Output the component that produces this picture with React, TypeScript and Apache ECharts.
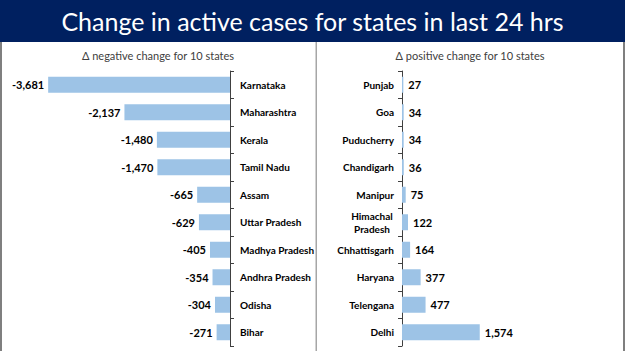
import React, { useEffect, useRef } from "react";
import * as echarts from "echarts";

const negStates = ["Karnataka", "Maharashtra", "Kerala", "Tamil Nadu", "Assam", "Uttar Pradesh", "Madhya Pradesh", "Andhra Pradesh", "Odisha", "Bihar"];
const negValues = [-3681, -2137, -1480, -1470, -665, -629, -405, -354, -304, -271];
const posStates = ["Punjab", "Goa", "Puducherry", "Chandigarh", "Manipur", "Himachal\nPradesh", "Chhattisgarh", "Haryana", "Telengana", "Delhi"];
const posValues = [27, 34, 34, 36, 75, 122, 164, 377, 477, 1574];

const TITLE = "Change in active cases for states in last 24 hrs";
const SUB_NEG = "Δ negative change for 10 states";
const SUB_POS = "Δ positive change for 10 states";

const FONT = "Lato";
const BAR = "#9DC3E6";
const fmt = (v: number) => v.toLocaleString("en-US");

export default function App() {
  const ref = useRef<HTMLDivElement>(null);
  useEffect(() => {
    document.body.style.margin = "0";
    const chart = echarts.init(ref.current!, null, { renderer: "svg" });
    const axisLine = { show: true, lineStyle: { color: "#404040", width: 1 } };
    chart.setOption({
      animation: false,
      backgroundColor: "#ffffff",
      graphic: [
        { type: "rect", shape: { x: 0, y: 0, width: 625, height: 42 }, style: { fill: "#002060" } },
        { type: "text", x: 312.5, y: 21, style: { text: TITLE, fill: "#ffffff", font: `25px ${FONT}`, align: "center", verticalAlign: "middle" } },
        { type: "rect", shape: { x: 0, y: 42, width: 2, height: 309 }, style: { fill: "#7f7f7f" } },
        { type: "rect", shape: { x: 623, y: 42, width: 2, height: 309 }, style: { fill: "#7f7f7f" } },
        { type: "rect", shape: { x: 315.5, y: 42, width: 1.5, height: 309 }, style: { fill: "#a6a6a6" } },
        { type: "text", x: 158, y: 55, style: { text: SUB_NEG, fill: "#404040", font: `11px ${FONT}`, align: "center", verticalAlign: "middle" } },
        { type: "text", x: 470, y: 55, style: { text: SUB_POS, fill: "#404040", font: `11px ${FONT}`, align: "center", verticalAlign: "middle" } },
      ],
      grid: [
        { left: 32.4, width: 197.6, top: 71, height: 275 },
        { left: 402, width: 98.8, top: 71, height: 275 },
      ],
      xAxis: [
        { type: "value", gridIndex: 0, min: -4000, max: 0, show: false },
        { type: "value", gridIndex: 1, min: 0, max: 2000, show: false },
      ],
      yAxis: [
        {
          type: "category", gridIndex: 0, data: negStates, inverse: true, position: "right",
          axisLine, axisTick: { show: true, length: 4, lineStyle: { color: "#404040" } },
          axisLabel: { margin: 10, align: "left", color: "#000", fontWeight: "bold", fontSize: 10, fontFamily: FONT },
        },
        {
          type: "category", gridIndex: 1, data: posStates, inverse: true, position: "left",
          axisLine, axisTick: { show: true, length: 4, lineStyle: { color: "#404040" } },
          axisLabel: {
            margin: 8, color: "#000", fontWeight: "bold", fontSize: 10, fontFamily: FONT, lineHeight: 13,
            formatter: (v: string) => v.includes("\n") ? v.split("\n").map((s) => `{c|${s}}`).join("\n") : v,
            rich: { c: { width: 44, align: "center", color: "#000", fontWeight: "bold", fontSize: 10, fontFamily: FONT, lineHeight: 13 } },
          },
        },
      ],
      series: [
        {
          type: "bar", xAxisIndex: 0, yAxisIndex: 0, data: negValues, barWidth: 16,
          itemStyle: { color: BAR },
          label: { show: true, position: "left", distance: 4, color: "#000", fontWeight: "bold", fontSize: 11, fontFamily: FONT, formatter: (p: any) => fmt(p.value) },
        },
        {
          type: "bar", xAxisIndex: 1, yAxisIndex: 1, data: posValues, barWidth: 16,
          itemStyle: { color: BAR },
          label: { show: true, position: "right", distance: 5, color: "#000", fontWeight: "bold", fontSize: 11, fontFamily: FONT, formatter: (p: any) => fmt(p.value) },
        },
      ],
    });
    return () => chart.dispose();
  }, []);
  return <div ref={ref} style={{ position: "fixed", left: 0, top: 0, width: 625, height: 351 }} />;
}
